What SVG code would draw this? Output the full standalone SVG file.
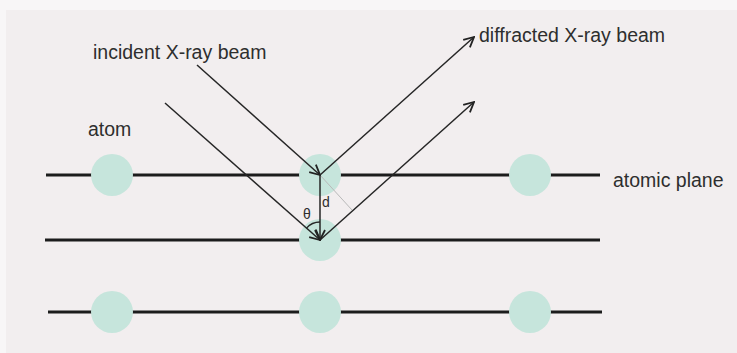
<svg xmlns="http://www.w3.org/2000/svg" width="737" height="353" viewBox="0 0 737 353">
  <defs>
    <marker id="vee" viewBox="0 0 12 12" refX="11" refY="6" markerWidth="12" markerHeight="12" markerUnits="userSpaceOnUse" orient="auto">
      <path d="M1,1 L11,6 L1,11" fill="none" stroke="#222" stroke-width="1.8" stroke-linejoin="miter"/>
    </marker>
    <style>
      .plane { stroke: #1c1c1c; stroke-width: 3; fill: none; }
      .atom { fill: #c6e5dc; }
      .ray { stroke: #262626; stroke-width: 1.5; fill: none; marker-end: url(#vee); }
      .guide { stroke: #b9b9b9; stroke-width: 1; fill: none; }
      .label { font-family: "Liberation Sans", Arial, sans-serif; font-size: 19.5px; fill: #2e2e2e; }
      .small { font-family: "Liberation Sans", Arial, sans-serif; font-size: 14px; fill: #2e2e2e; }
    </style>
  </defs>

  <!-- page and panel -->
  <rect width="737" height="353" fill="#f8f6f7"/>
  <rect x="6" y="10" width="731" height="343" fill="#f2eeef"/>

  <!-- atomic planes -->
  <g id="planes">
    <line class="plane" x1="46" y1="175" x2="600" y2="175"/>
    <line class="plane" x1="45" y1="240" x2="600" y2="240"/>
    <line class="plane" x1="48" y1="312" x2="602" y2="312"/>
  </g>

  <!-- atoms -->
  <g id="atom-1-1"><circle class="atom" cx="112" cy="175" r="21"/></g>
  <g id="atom-1-2"><circle class="atom" cx="320" cy="175" r="21"/></g>
  <g id="atom-1-3"><circle class="atom" cx="530" cy="175" r="21"/></g>
  <g id="atom-2-2"><circle class="atom" cx="320" cy="240" r="21"/></g>
  <g id="atom-3-1"><circle class="atom" cx="112" cy="312" r="21"/></g>
  <g id="atom-3-2"><circle class="atom" cx="320" cy="312" r="21"/></g>
  <g id="atom-3-3"><circle class="atom" cx="530" cy="312" r="21"/></g>

  <!-- beams and geometry -->
  <g id="connectors">
    <line class="guide" x1="320" y1="175" x2="352" y2="210"/>
    <line class="ray" x1="197" y1="65" x2="320" y2="175"/>
    <line class="ray" x1="165" y1="103" x2="320" y2="240"/>
    <line class="ray" x1="320" y1="175" x2="474" y2="37"/>
    <line class="ray" x1="320" y1="240" x2="474" y2="102"/>
    <line class="ray" x1="320" y1="175" x2="320" y2="240"/>
    <path d="M306.5,228.1 A18,18 0 0 1 320,222" fill="none" stroke="#262626" stroke-width="1.3"/>
  </g>

  <!-- labels -->
  <g id="labels">
    <text class="label" x="93" y="59">incident X-ray beam</text>
    <text class="label" x="479" y="42">diffracted X-ray beam</text>
    <text class="label" x="88" y="136">atom</text>
    <text class="label" x="613" y="187">atomic plane</text>
    <text class="small" x="303" y="219">θ</text>
    <text class="small" x="322" y="207">d</text>
  </g>
</svg>
